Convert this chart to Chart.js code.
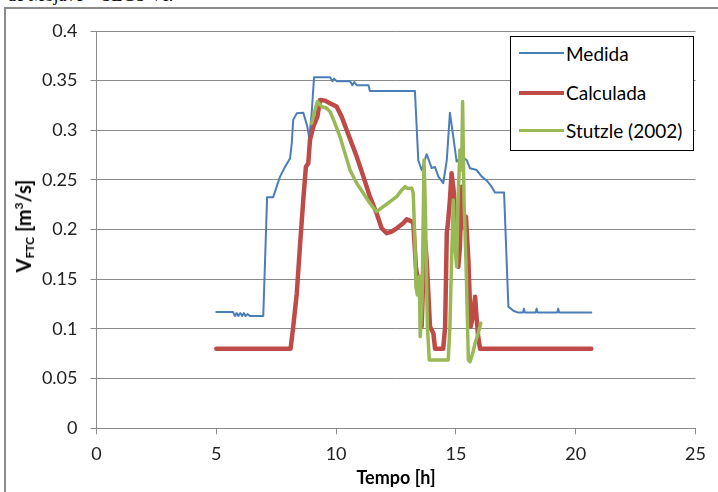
<!DOCTYPE html>
<html>
<head>
<meta charset="utf-8">
<script src="https://cdn.jsdelivr.net/npm/chart.js@4.4.0/dist/chart.umd.min.js"></script>
<style>
  body { margin: 0; background: #fff; }
  #wrap { position: relative; width: 718px; height: 492px; overflow: hidden; font-family: Lato, sans-serif; color: #000; }
  #caption { position: absolute; left: 7px; top: -15px; font: 18px "Liberation Serif", serif; white-space: nowrap; }
  #frame { position: absolute; left: 4px; top: 7px; width: 800px; height: 600px; border-left: 2px solid #8c8c8c; border-top: 2px solid #8c8c8c; }
  #chart { position: absolute; left: 0; top: 0; }
  #ytitle { position: absolute; left: 24px; top: 226px; transform: translate(-50%, -50%) rotate(-90deg); font-weight: bold; font-size: 20px; white-space: nowrap; }
  #ytitle sub { font-size: 12px; vertical-align: -3px; }
  #ytitle sup { font-size: 12px; vertical-align: 8px; }
  #legend { position: absolute; left: 510px; top: 36px; width: 182px; height: 113px; border: 1px solid #000; background: #fff; }
  .row { position: absolute; left: 8px; height: 22px; display: flex; align-items: center; font-size: 19px; white-space: nowrap; }
  .row span.swatch { display: inline-block; width: 45px; margin-right: 2px; }
</style>
</head>
<body>
<div id="wrap">
  <div id="caption">de Mojave – SEGS VI.</div>
  <div id="frame"></div>
  <canvas id="chart" width="718" height="492"></canvas>
  <div id="ytitle">V<sub>FTC</sub> [m<sup>3</sup>/s]</div>
  <div id="legend"></div>
</div>
<script>
// tempo [h] e vazao [m3/s] de cada serie
const medidaT = [5.0, 5.7, 5.78, 5.85, 5.92, 6.0, 6.08, 6.15, 6.22, 6.3, 6.4, 6.96, 7.12, 7.37, 7.52,
  7.66, 7.87, 8.08, 8.15, 8.21, 8.36, 8.63, 8.8, 8.88, 8.98, 9.08, 9.75, 9.85, 9.92, 10.02,
  10.58, 10.68, 10.76, 10.86, 11.35, 11.41, 13.29, 13.43, 13.57, 13.78, 13.99, 14.13, 14.27, 14.47, 14.62,
  14.75, 14.89, 15.03, 15.24, 15.45, 15.59, 15.87, 16.08, 16.29, 16.49, 16.63, 17.01, 17.19, 17.4, 17.6,
  17.8, 17.84, 17.88, 18.33, 18.37, 18.41, 19.23, 19.27, 19.31, 20.65];
const medidaV = [0.117, 0.117, 0.113, 0.116, 0.113, 0.116, 0.113, 0.116, 0.113, 0.115, 0.113, 0.113, 0.2325, 0.2325, 0.2433,
  0.2534, 0.2634, 0.2719, 0.287, 0.3105, 0.3172, 0.3178, 0.3037, 0.292, 0.3172, 0.3535, 0.3535, 0.3495, 0.352, 0.3495,
  0.3495, 0.3455, 0.3485, 0.3455, 0.3455, 0.3395, 0.3395, 0.270, 0.260, 0.276, 0.262, 0.263, 0.2534, 0.2467, 0.270,
  0.3178, 0.2937, 0.2685, 0.2735, 0.270, 0.2618, 0.260, 0.2534, 0.2493, 0.2433, 0.2373, 0.2373, 0.1225, 0.1184, 0.1165,
  0.1165, 0.1205, 0.1165, 0.1165, 0.1205, 0.1165, 0.1165, 0.1205, 0.1165, 0.1165];

const calcT = [5.0, 8.1, 8.21, 8.36, 8.49, 8.63, 8.74, 8.84, 8.91, 9.05, 9.22, 9.33, 9.54, 9.74, 10.02,
  10.23, 10.44, 10.65, 10.86, 11.14, 11.41, 11.69, 11.9, 12.11, 12.32, 12.53, 12.8, 12.95, 13.16, 13.22,
  13.33, 13.39, 13.48, 13.57, 13.64, 13.71, 13.78, 13.92, 14.06, 14.13, 14.47, 14.55, 14.62, 14.68, 14.75,
  14.82, 14.92, 15.0, 15.1, 15.17, 15.24, 15.31, 15.42, 15.52, 15.62, 15.73, 15.8, 15.87, 15.93, 16.01, 20.65];
const calcV = [0.08, 0.08, 0.1023, 0.136, 0.1829, 0.2299, 0.2634, 0.2669, 0.2903, 0.3037, 0.3138, 0.3306, 0.3299, 0.3273, 0.3239,
  0.3138, 0.3004, 0.287, 0.2735, 0.2534, 0.2332, 0.2165, 0.2014, 0.1964, 0.198, 0.2014, 0.2064, 0.2105, 0.2081, 0.2075,
  0.1627, 0.1527, 0.1527, 0.1023, 0.1527, 0.1896, 0.1695, 0.1023, 0.0957, 0.08, 0.08, 0.1023, 0.1964, 0.2098, 0.2299,
  0.2568, 0.2367, 0.1796, 0.1627, 0.1829, 0.2433, 0.203, 0.2131, 0.1695, 0.1023, 0.1158, 0.1325, 0.1091, 0.0922, 0.08, 0.08];

const stutzleT = [8.98, 9.16, 9.22, 9.4, 9.61, 9.75, 9.95, 10.16, 10.37, 10.58, 10.86, 11.14, 11.41, 11.69, 11.97,
  12.25, 12.53, 12.74, 12.88, 12.95, 13.16, 13.22, 13.29, 13.33, 13.39, 13.47, 13.51, 13.59, 13.67, 13.72,
  13.81, 13.89, 14.68, 14.75, 14.82, 14.89, 14.96, 15.03, 15.1, 15.17, 15.24, 15.28, 15.34, 15.42, 15.52,
  15.59, 15.7, 15.8, 15.93, 16.04];
const stutzleV = [0.3071, 0.3239, 0.3289, 0.3239, 0.3222, 0.3188, 0.3071, 0.2937, 0.2769, 0.2601, 0.2467, 0.2367, 0.2266, 0.2181, 0.2232,
  0.2282, 0.2332, 0.24, 0.2433, 0.2417, 0.2417, 0.2367, 0.1863, 0.1426, 0.1342, 0.1527, 0.0922, 0.1292, 0.2702, 0.2266,
  0.1023, 0.0688, 0.0688, 0.1023, 0.1695, 0.2299, 0.1829, 0.1627, 0.2367, 0.2803, 0.2601, 0.3289, 0.2266, 0.1695, 0.0688,
  0.0671, 0.0755, 0.0856, 0.0957, 0.1057];

const xTicks = [0, 5, 10, 15, 20, 25];
const yTicks = [0, 0.05, 0.1, 0.15, 0.2, 0.25, 0.3, 0.35, 0.4];

const gridGray = '#8a8a8a';

function toPoints(ts, vs) {
  return ts.map((t, i) => ({ x: t, y: vs[i] }));
}

const series = [
  { label: 'Medida', t: medidaT, v: medidaV, color: '#4a7ebb', width: 2, order: 3 },
  { label: 'Calculada', t: calcT, v: calcV, color: '#be4b48', width: 4.5, order: 2 },
  { label: 'Stutzle (2002)', t: stutzleT, v: stutzleV, color: '#98b954', width: 3.5, order: 1 }
];

const chart = new Chart(document.getElementById('chart'), {
  type: 'line',
  data: {
    datasets: series.map(s => ({
      label: s.label,
      data: toPoints(s.t, s.v),
      borderColor: s.color,
      borderWidth: s.width,
      order: s.order,
      pointRadius: 0,
      tension: 0,
      borderJoinStyle: 'round',
      borderCapStyle: 'round',
      fill: false
    }))
  },
  options: {
    responsive: false,
    animation: false,
    devicePixelRatio: 1,
    layout: { padding: { left: 0, right: 22.5, top: 31, bottom: 0 } },
    plugins: { legend: { display: false }, tooltip: { enabled: false } },
    scales: {
      x: {
        type: 'linear',
        min: 0,
        max: 25,
        afterBuildTicks: s => { s.ticks = xTicks.map(v => ({ value: v })); },
        afterFit: s => { s.height = 492 - 428.3; },
        grid: { drawOnChartArea: false, tickLength: 6, tickColor: gridGray },
        border: { color: gridGray, width: 1 },
        ticks: { color: '#222', font: { family: 'Lato', size: 18 }, padding: 9, maxRotation: 0 },
        title: { display: true, text: 'Tempo [h]', color: '#000', font: { family: 'Lato', size: 18, weight: 'bold' }, padding: { top: 0, bottom: 3 } }
      },
      y: {
        min: 0,
        max: 0.4,
        afterBuildTicks: s => { s.ticks = yTicks.map(v => ({ value: v })); },
        afterFit: s => { s.width = 96.5; },
        grid: { color: gridGray, tickLength: 6, tickColor: gridGray, lineWidth: 1 },
        border: { color: gridGray, width: 1 },
        ticks: {
          color: '#222',
          font: { family: 'Lato', size: 18 },
          padding: 13,
          callback: v => String(+v.toFixed(2))
        }
      }
    }
  }
});

// legenda em caixa, desenhada a partir dos datasets
const legend = document.getElementById('legend');
const rowTops = [5, 44.5, 82.5];
series.forEach((s, i) => {
  const row = document.createElement('div');
  row.className = 'row';
  row.style.top = rowTops[i] + 'px';
  const sw = document.createElement('span');
  sw.className = 'swatch';
  sw.style.borderTop = s.width + 'px solid ' + s.color;
  row.appendChild(sw);
  row.appendChild(document.createTextNode(s.label));
  legend.appendChild(row);
});
</script>
</body>
</html>
